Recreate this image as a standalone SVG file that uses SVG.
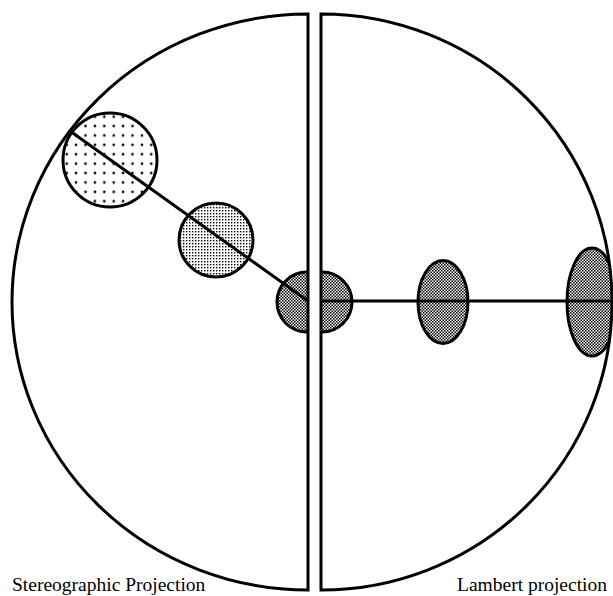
<svg xmlns="http://www.w3.org/2000/svg" width="613" height="596" viewBox="0 0 613 596">
<style>
.outline{fill:none;stroke:#000;stroke-width:3;stroke-linejoin:miter}
.spot{stroke:#000;stroke-width:3}
.ray{stroke:#000;stroke-width:3;fill:none}
.label{font-family:"Liberation Serif","Times New Roman",serif;font-size:19.5px;fill:#000}
</style>
<defs>
<pattern id="dotsCoarse" patternUnits="userSpaceOnUse" x="62" y="112" width="9.4" height="9.4">
<rect width="9.4" height="9.4" fill="#fff"/>
<circle cx="4.7" cy="4.7" r="1.3" fill="#000"/>
</pattern>
<pattern id="dotsFine" patternUnits="userSpaceOnUse" width="3" height="3">
<rect width="3" height="3" fill="#fff"/>
<rect width="1.4" height="1.4" fill="#000"/>
</pattern>
<pattern id="checker" patternUnits="userSpaceOnUse" width="3" height="3">
<rect width="3" height="3" fill="#fff"/>
<rect width="1.5" height="1.5" fill="#000"/>
<rect x="1.5" y="1.5" width="1.5" height="1.5" fill="#000"/>
</pattern>
<clipPath id="leftHalf"><path d="M308 14 A296 288 0 0 0 308 590 Z"/></clipPath>
<clipPath id="rightHalf"><path d="M321 14 A291 288 0 0 1 321 590 Z"/></clipPath>
</defs>
<rect width="613" height="596" fill="#fff"/>

<g id="stereo-spot-1"><circle class="spot" cx="110" cy="160" r="47" fill="url(#dotsCoarse)"/></g>
<g id="stereo-spot-2"><circle class="spot" cx="216" cy="240" r="37" fill="url(#dotsFine)"/></g>
<g id="stereo-spot-3" clip-path="url(#leftHalf)"><circle class="spot" cx="307" cy="302" r="30" fill="url(#checker)"/></g>

<g id="lambert-spot-1" clip-path="url(#rightHalf)"><circle class="spot" cx="322" cy="302" r="30" fill="url(#checker)"/></g>
<g id="lambert-spot-2"><ellipse class="spot" cx="443" cy="302" rx="25" ry="41.5" fill="url(#checker)"/></g>
<g id="lambert-spot-3" clip-path="url(#rightHalf)"><ellipse class="spot" cx="592" cy="302" rx="25" ry="54" fill="url(#checker)"/></g>

<g id="connectors">
<line class="ray" x1="70" y1="131" x2="308" y2="301"/>
<line class="ray" x1="321" y1="301" x2="613" y2="301"/>
</g>

<g id="stereographic-half"><path class="outline" d="M308 14 A296 288 0 0 0 308 590 Z"/></g>
<g id="lambert-half"><path class="outline" d="M321 14 A291 288 0 0 1 321 590 Z"/></g>

<g id="labels">
<text class="label" x="12" y="591">Stereographic Projection</text>
<text class="label" x="457" y="591">Lambert projection</text>
</g>
</svg>
